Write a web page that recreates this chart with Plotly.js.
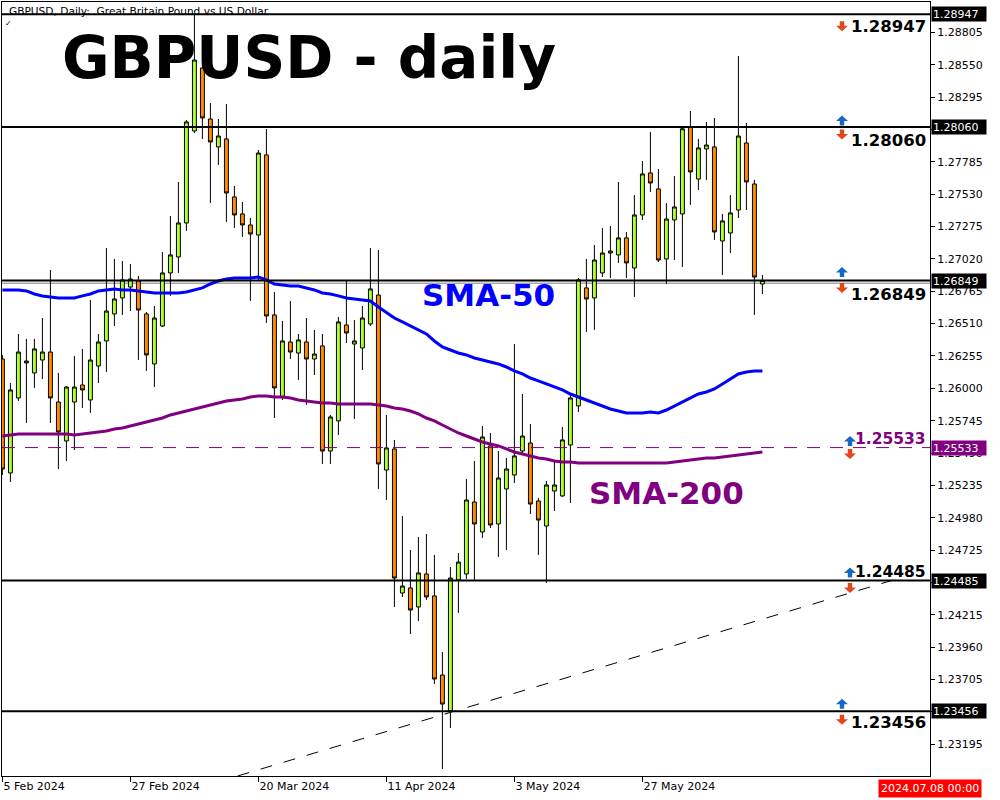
<!DOCTYPE html>
<html>
<head>
<meta charset="utf-8">
<script src="https://cdn.plot.ly/plotly-3.0.1.min.js"></script>
<style>
html,body{margin:0;padding:0;background:#ffffff;}
#chart{width:1000px;height:800px;}
</style>
</head>
<body>
<div id="chart"></div>
<script>
// ---------------- data (GBPUSD daily) ----------------
const openP = [
1.26231,1.25333,1.25924,1.26215,1.26121,1.26223,1.26286,1.25892,1.25585,1.25892,
1.26026,1.25908,1.26176,1.26373,1.26586,1.26712,1.26798,1.26846,1.26586,1.26192,
1.26491,1.26909,1.27035,1.27303,1.28028,1.28524,1.28122,1.27902,1.27965,1.27508,
1.27374,1.27287,1.27208,1.27839,1.26578,1.25932,1.26365,1.26278,1.26365,1.26231,
1.26334,1.25506,1.25743,1.26499,1.26349,1.26318,1.26507,1.26735,1.25356,1.25522,
1.24387,1.24427,1.24277,1.24537,1.24364,1.23741,1.23460,1.24490,1.24537,1.25104,
1.24868,1.25546,1.24931,1.25207,1.25317,1.25506,1.25569,1.25112,1.24915,1.25191,
1.25152,1.25553,1.25861,1.26791,1.26712,1.26909,1.27066,1.27051,1.27185,1.26948,
1.27366,1.27697,1.27571,1.27019,1.27327,1.27374,1.28059,1.27649,1.27886,1.27902,
1.27161,1.27224,1.27405,1.27933,1.27610,1.26822];
const highP = [
1.26263,1.26042,1.26428,1.26389,1.26389,1.26554,1.26932,1.26121,1.26018,1.26255,
1.26310,1.26696,1.26428,1.27106,1.27019,1.27003,1.26980,1.26885,1.26601,1.26649,
1.27074,1.27358,1.27626,1.28114,1.28947,1.28540,1.28248,1.28122,1.28240,1.27594,
1.27468,1.27342,1.27878,1.28043,1.26759,1.26531,1.26688,1.26428,1.26554,1.26460,
1.26428,1.25790,1.26562,1.26846,1.26538,1.26649,1.27106,1.27090,1.25790,1.25593,
1.24994,1.24726,1.24828,1.24852,1.24687,1.23922,1.24592,1.24702,1.25285,1.25427,
1.25703,1.25648,1.25506,1.25451,1.26349,1.25955,1.25719,1.25136,1.25270,1.25427,
1.25695,1.25947,1.26869,1.27019,1.27129,1.27263,1.27279,1.27626,1.27232,1.27523,
1.27791,1.28020,1.27728,1.27460,1.27673,1.28060,1.28185,1.27965,1.28099,1.28130,
1.27374,1.27523,1.28619,1.28091,1.27642,1.26893];
const lowP = [
1.25317,1.25262,1.25900,1.25727,1.26003,1.26073,1.25727,1.25364,1.25427,1.25514,
1.25845,1.25806,1.26042,1.26129,1.26491,1.26578,1.26609,1.26223,1.26137,1.26010,
1.26483,1.26728,1.26909,1.27240,1.28012,1.27965,1.27460,1.27760,1.27311,1.27263,
1.27192,1.26688,1.26854,1.26515,1.25766,1.25908,1.26231,1.26066,1.25869,1.26105,
1.25404,1.25404,1.25632,1.26357,1.25758,1.26144,1.26491,1.25207,1.25120,1.24277,
1.24356,1.24064,1.24166,1.24332,1.23670,1.23000,1.23323,1.24230,1.24497,1.24490,
1.24821,1.24899,1.24671,1.24726,1.25254,1.25475,1.25010,1.24687,1.24466,1.25033,
1.25144,1.25096,1.25813,1.26444,1.26460,1.26877,1.26869,1.26988,1.26869,1.26720,
1.27326,1.27547,1.26995,1.26822,1.27011,1.26956,1.27445,1.27563,1.27642,1.27169,
1.26893,1.27066,1.27342,1.27405,1.26578,1.26743];
const closeP = [
1.25364,1.25987,1.26286,1.26200,1.26310,1.26286,1.25924,1.25656,1.26010,1.26010,
1.25987,1.26223,1.26365,1.26609,1.26704,1.26854,1.26861,1.26617,1.26263,1.26554,
1.26909,1.27051,1.27303,1.28099,1.28587,1.28130,1.27941,1.27988,1.27539,1.27366,
1.27287,1.27216,1.27854,1.26570,1.26003,1.26373,1.26286,1.26381,1.26231,1.26270,
1.25506,1.25774,1.26523,1.26436,1.26373,1.26554,1.26783,1.25404,1.25530,1.24505,
1.24442,1.24253,1.24545,1.24356,1.23709,1.23512,1.24505,1.24631,1.25120,1.24931,
1.25616,1.24923,1.25293,1.25364,1.25467,1.25624,1.25088,1.24962,1.25238,1.25238,
1.25593,1.25924,1.26854,1.26704,1.27011,1.27066,1.27082,1.27185,1.26988,1.27366,
1.27689,1.27618,1.27011,1.27334,1.27429,1.28045,1.27705,1.27894,1.27917,1.27232,
1.27319,1.27382,1.27988,1.27626,1.26877,1.26849];
const sma50 = [
1.26775,1.26775,1.26775,1.26767,1.26743,1.26728,1.26720,1.26712,1.26712,1.26712,
1.26728,1.26743,1.26767,1.26775,1.26783,1.26775,1.26775,1.26767,1.26759,1.26751,
1.26751,1.26751,1.26751,1.26759,1.26775,1.26791,1.26822,1.26846,1.26861,1.26869,
1.26869,1.26869,1.26877,1.26854,1.26822,1.26814,1.26806,1.26806,1.26791,1.26775,
1.26751,1.26743,1.26728,1.26712,1.26704,1.26696,1.26688,1.26641,1.26594,1.26554,
1.26523,1.26491,1.26460,1.26428,1.26373,1.26326,1.26302,1.26278,1.26263,1.26239,
1.26223,1.26207,1.26192,1.26168,1.26137,1.26113,1.26081,1.26058,1.26034,1.26010,
1.25987,1.25955,1.25932,1.25908,1.25884,1.25861,1.25837,1.25821,1.25806,1.25806,
1.25806,1.25813,1.25806,1.25829,1.25861,1.25892,1.25924,1.25955,1.25971,1.25995,
1.26034,1.26073,1.26113,1.26129,1.26137,1.26137];
const sma200 = [
1.25624,1.25632,1.25640,1.25640,1.25640,1.25640,1.25640,1.25640,1.25640,1.25632,
1.25640,1.25648,1.25656,1.25664,1.25679,1.25687,1.25703,1.25719,1.25735,1.25750,
1.25766,1.25790,1.25806,1.25821,1.25837,1.25853,1.25869,1.25884,1.25900,1.25908,
1.25916,1.25932,1.25940,1.25940,1.25932,1.25932,1.25924,1.25908,1.25900,1.25892,
1.25884,1.25884,1.25876,1.25876,1.25876,1.25876,1.25876,1.25869,1.25861,1.25845,
1.25837,1.25821,1.25798,1.25766,1.25743,1.25711,1.25679,1.25648,1.25624,1.25601,
1.25577,1.25561,1.25546,1.25522,1.25498,1.25482,1.25467,1.25451,1.25443,1.25427,
1.25419,1.25419,1.25412,1.25412,1.25412,1.25412,1.25412,1.25412,1.25412,1.25412,
1.25412,1.25412,1.25412,1.25412,1.25419,1.25427,1.25435,1.25443,1.25451,1.25451,
1.25459,1.25467,1.25475,1.25482,1.25490,1.25498];
const tickDates = ['5 Feb 2024','27 Feb 2024','20 Mar 2024','11 Apr 2024','3 May 2024','27 May 2024'];
const tickBars  = [0,16,32,48,64,80];
const priceTicks = [1.28805,1.28550,1.28295,1.28040,1.27785,1.27530,1.27275,1.27020,1.26765,1.26510,
                    1.26255,1.26000,1.25745,1.25490,1.25235,1.24980,1.24725,1.24470,1.24215,1.23960,
                    1.23705,1.23450,1.23195];
// tick labels fully hidden behind the level price boxes in the original
const hiddenTickLabels = [1.28040,1.24470,1.23450];
const levelValues = [1.28947,1.28060,1.26849,1.25533,1.24485,1.23456];
const bidLevel = 1.26828;
const trendBars = [29.4,112.2];
const trendPrices = [1.22945,1.24505];
const chartTitle = 'GBPUSD - daily';
const symbolTitle = 'GBPUSD, Daily:\u00a0\u00a0Great Britain Pound vs US Dollar';
const lastTime = '2024.07.08 00:00';

// ---------------- styling ----------------
const bars = openP.map((_, i) => i);
const PL = 2, PR = 930, PT = 2, PB = 776;
const pxX = v => (v - PL) / (PR - PL);
const pxY = v => (PB - v) / (PB - PT);
const PURPLE = '#800080';
const BLUE_ARW = '#1767c4', RED_ARW = '#e4461c';

const levelLine = [
  {color:'#000', width:2},{color:'#000', width:2},{color:'#000', width:2},
  {color:PURPLE, width:1, dash:'13px,10px'},
  {color:'#000', width:2},{color:'#000', width:2}];
const levelBox = ['#000','#000','#000',PURPLE,'#000','#000'];
const labelColor = ['#000','#000','#000',PURPLE,'#000','#000'];
const labelShift = [-12,-13.5,-13.5,8.5,8.5,-11.5];
const labelSize  = [16.5,16.5,16.5,15.5,15.5,16.5];
const labelRight = [928,928,928,928,928,928];
const arrowX   = [842,842,842,850,850,842];
const showUp   = [false,true,true,true,true,true];
const upOff    = [0,6.5,8.5,6.5,8,7.5];
const downOff  = [-12,-7.5,-7.5,-6.5,-7.5,-8.5];

function upArrow(c){
  return `M -6,${c-0.5} L 0,${c+5} L 6,${c-0.5} L 2.2,${c-0.5} L 2.2,${c-5} L -2.2,${c-5} L -2.2,${c-0.5} Z`;
}
function downArrow(c){
  return `M -6,${c+0.5} L 0,${c-5} L 6,${c+0.5} L 2.2,${c+0.5} L 2.2,${c+5} L -2.2,${c+5} L -2.2,${c+0.5} Z`;
}

const shapes = [];
const annotations = [];

levelValues.forEach((lv, k) => {
  shapes.push({type:'line', xref:'paper', x0:0, x1:1, yref:'y', y0:lv, y1:lv, line:levelLine[k], layer:'above'});
});
shapes.push({type:'line', xref:'paper', x0:0, x1:1, yref:'y', y0:bidLevel, y1:bidLevel, line:{color:'#a8a8a8', width:1.5}, layer:'below'});

levelValues.forEach((lv, k) => {
  const ax = pxX(arrowX[k]);
  if (showUp[k]) shapes.push({type:'path', xref:'paper', yref:'y', xsizemode:'pixel', ysizemode:'pixel',
    xanchor:ax, yanchor:lv, path:upArrow(upOff[k]), fillcolor:BLUE_ARW, line:{width:0}});
  shapes.push({type:'path', xref:'paper', yref:'y', xsizemode:'pixel', ysizemode:'pixel',
    xanchor:ax, yanchor:lv, path:downArrow(downOff[k]), fillcolor:RED_ARW, line:{width:0}});
  annotations.push({xref:'paper', x:pxX(labelRight[k]), xanchor:'right', yref:'y', y:lv, yanchor:'middle',
    yshift:labelShift[k], showarrow:false, text:'<b>'+lv.toFixed(5)+'</b>',
    font:{family:'DejaVu Sans', size:labelSize[k], color:labelColor[k]}});
  annotations.push({xref:'paper', x:1, xanchor:'left', xshift:1, yref:'y', y:lv, yanchor:'middle',
    showarrow:false, text:lv.toFixed(5), bgcolor:levelBox[k], borderpad:1, width:52, height:12, align:'left',
    font:{family:'DejaVu Sans', size:11, color:'#fff'}});
});

annotations.push({xref:'paper', yref:'paper', x:pxX(60), y:pxY(58.5), xanchor:'left', yanchor:'middle', showarrow:false,
  text:'<b>'+chartTitle+'</b>', font:{family:'DejaVu Sans', size:58, color:'#000'}});
annotations.push({xref:'paper', yref:'paper', x:pxX(420), y:pxY(295), xanchor:'left', yanchor:'middle', showarrow:false,
  text:'<b>SMA-50</b>', font:{family:'DejaVu Sans', size:31, color:'#0000ff'}});
annotations.push({xref:'paper', yref:'paper', x:pxX(587), y:pxY(493), xanchor:'left', yanchor:'middle', showarrow:false,
  text:'<b>SMA-200</b>', font:{family:'DejaVu Sans', size:31, color:PURPLE}});
annotations.push({xref:'paper', yref:'paper', x:pxX(7), y:pxY(11), xanchor:'left', yanchor:'middle', showarrow:false,
  text:symbolTitle, font:{family:'DejaVu Sans', size:10.6, color:'#000'}});
annotations.push({xref:'paper', yref:'paper', x:pxX(3), y:pxY(24), xanchor:'left', yanchor:'middle', showarrow:false,
  text:'\u2713', font:{family:'DejaVu Sans', size:8, color:'#000'}});
annotations.push({xref:'paper', yref:'paper', x:pxX(929.5), y:pxY(788), xanchor:'center', yanchor:'middle', showarrow:false,
  text:lastTime, bgcolor:'#ff0000', borderpad:2, font:{family:'DejaVu Sans', size:11, color:'#fff'}});

const traces = [
  {type:'candlestick', x:bars, open:openP, high:highP, low:lowP, close:closeP,
   increasing:{line:{color:'#000', width:1}, fillcolor:'#adff2f'},
   decreasing:{line:{color:'#000', width:1}, fillcolor:'#ff8c00'},
   whiskerwidth:0, hoverinfo:'skip', showlegend:false},
  {type:'scatter', mode:'lines', x:bars, y:sma50, line:{color:'#0000ff', width:3}, hoverinfo:'skip', showlegend:false},
  {type:'scatter', mode:'lines', x:bars, y:sma200, line:{color:PURPLE, width:3}, hoverinfo:'skip', showlegend:false},
  {type:'scatter', mode:'lines', x:trendBars, y:trendPrices, line:{color:'#000', width:1, dash:'12px,12px'}, hoverinfo:'skip', showlegend:false}
];

const layout = {
  width:1000, height:800,
  margin:{l:PL, r:1000-PR, t:PT, b:800-PB, pad:0},
  paper_bgcolor:'#fff', plot_bgcolor:'#fff',
  showlegend:false, hovermode:false,
  font:{family:'DejaVu Sans', size:11, color:'#000'},
  xaxis:{range:[-0.05, 115.95], showgrid:false, zeroline:false, showline:true, mirror:true,
         linecolor:'#000', linewidth:1, ticks:'outside', ticklen:5, tickcolor:'#000', tickwidth:1,
         tickvals:tickBars, ticktext:tickDates, ticklabelposition:'outside right',
         rangeslider:{visible:false}, fixedrange:true, tickfont:{family:'DejaVu Sans', size:11, color:'#000'}},
  yaxis:{range:[1.22945, 1.29044], side:'right', showgrid:false, zeroline:false, showline:true, mirror:true,
         linecolor:'#000', linewidth:1, ticks:'outside', ticklen:4, tickcolor:'#000', tickwidth:1,
         tickvals:priceTicks,
         ticktext:priceTicks.map(v => hiddenTickLabels.includes(v) ? '' : v.toFixed(5)), fixedrange:true,
         tickfont:{family:'DejaVu Sans', size:11, color:'#000'}},
  shapes:shapes,
  annotations:annotations
};

Plotly.newPlot('chart', traces, layout, {staticPlot:true, displayModeBar:false});
</script>
</body>
</html>
